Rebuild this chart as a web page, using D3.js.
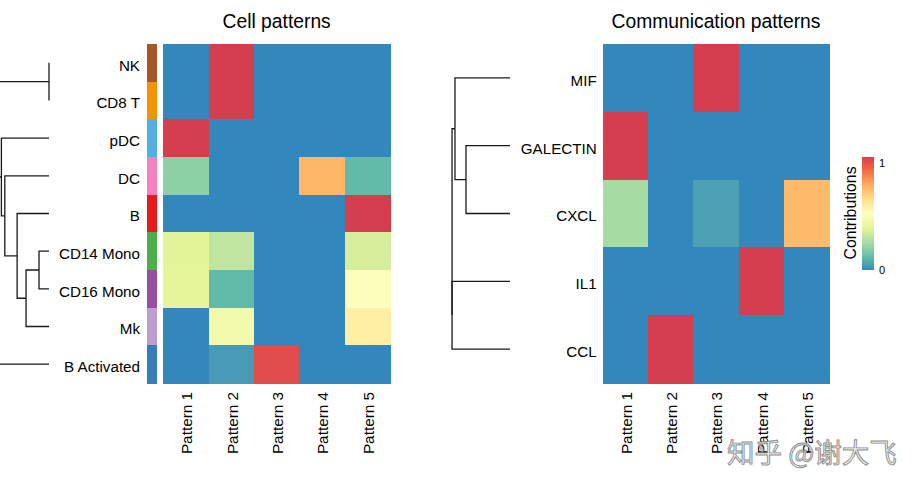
<!DOCTYPE html>
<html><head><meta charset="utf-8">
<script src="https://cdn.jsdelivr.net/npm/d3@7"></script>
<style>body{margin:0;background:#fff} svg{display:block;font-family:"Liberation Sans",Arial,sans-serif}</style>
</head><body><svg id="c" width="921" height="488"></svg>
<script>
// ---------------- data ----------------
const cellGroups = ["NK","CD8 T","pDC","DC","B","CD14 Mono","CD16 Mono","Mk","B Activated"];
const patterns = ["Pattern 1","Pattern 2","Pattern 3","Pattern 4","Pattern 5"];
const cellValues = [
  [0,1,0,0,0],
  [0,1,0,0,0],
  [1,0,0,0,0],
  [0.19,0,0,0.73,0.11],
  [0,0,0,0,1],
  [0.37,0.29,0,0,0.34],
  [0.38,0.11,0,0,0.49],
  [0,0.44,0,0,0.56],
  [0,0.04,0.96,0,0]
];
const cellGroupColors = ["#A65628","#F29403","#54B0E4","#F781BF","#E41A1C","#4DAF4A","#984EA3","#BC9DCC","#377EB8"];
const signalings = ["MIF","GALECTIN","CXCL","IL1","CCL"];
const commValues = [
  [0,0,1,0,0],
  [1,0,0,0,0],
  [0.24,0,0.05,0,0.72],
  [0,0,0,1,0],
  [0,1,0,0,0]
];
const spectral = ["#3288BD","#66C2A5","#ABDDA4","#E6F598","#FFFFBF","#FEE08B","#FDAE61","#F46D43","#D53E4F"];
const legendTicks = [0,1];
const legendTitle = "Contributions";
const titles = ["Cell patterns","Communication patterns"];
const watermark = "知乎 @谢大飞";
// dendrograms (merge heights)
const cellTree = {h:1.45, children:[
  {h:1.25, children:[
    {h:0, children:[{name:"NK"},{name:"CD8 T"}]},
    {h:1.12, children:[{name:"pDC"},
      {h:1.04, children:[{name:"DC"},
        {h:0.75, children:[{name:"B"},
          {h:0.54, children:[{h:0.235, children:[{name:"CD14 Mono"},{name:"CD16 Mono"}]},{name:"Mk"}]}]}]}]}
  ]},
  {name:"B Activated"}
]};
const commTree = {h:1.38, children:[
  {h:1.31, children:[{name:"MIF"},{h:1.048, children:[{name:"GALECTIN"},{name:"CXCL"}]}]},
  {h:1.38, children:[{name:"IL1"},{name:"CCL"}]}
]};

// ---------------- drawing ----------------
const svg = d3.select("#c");
const color = d3.scaleLinear().domain(d3.range(spectral.length).map(i=>i/(spectral.length-1)))
  .range(spectral).interpolate(d3.interpolateLab).clamp(true);

const hmTop = 44, hmBottom = 383;
const FONT = "Liberation Sans, Arial, sans-serif";

function heatmap(rows, values, x0, x1) {
  const x = d3.scaleBand().domain(patterns).range([x0, x1]);
  const y = d3.scaleBand().domain(rows).range([hmTop, hmBottom]);
  const g = svg.append("g");
  const cells = [];
  rows.forEach((r,i)=>patterns.forEach((p,j)=>cells.push({r,p,v:values[i][j]})));
  g.selectAll("rect").data(cells).join("rect")
    .attr("x", d=>x(d.p)).attr("y", d=>y(d.r))
    .attr("width", x.bandwidth()+0.5).attr("height", y.bandwidth()+0.5)
    .attr("fill", d=>color(d.v)).attr("shape-rendering","crispEdges");
  const ax = svg.append("g").attr("transform",`translate(0,${hmBottom})`)
    .call(d3.axisBottom(x).tickSize(0));
  ax.select(".domain").remove();
  ax.selectAll("text").attr("y",1).attr("x",-9).attr("dy","0.35em")
    .attr("transform","rotate(-90)").style("text-anchor","end")
    .attr("font-size",15.3).attr("font-family",FONT).attr("fill","#000");
  return {x,y};
}

function rowLabels(y, xAxis, pad) {
  const ay = svg.append("g").attr("transform",`translate(${xAxis},0)`)
    .call(d3.axisLeft(y).tickSize(0).tickPadding(pad));
  ay.select(".domain").remove();
  ay.selectAll("text").attr("dy","0.52em").attr("font-size",15.2).attr("font-family",FONT).attr("fill","#000");
}

function dendro(tree, y, xs) {
  const root = d3.hierarchy(tree);
  root.eachAfter(n=>{
    if (!n.children) { n.ph = 0; n.py = y(n.data.name)+y.bandwidth()/2; }
    else { n.ph = n.data.h; n.py = (n.children[0].py + n.children[n.children.length-1].py)/2; }
  });
  svg.append("g").selectAll("path").data(root.links()).join("path")
    .attr("d", l=>`M${xs(l.source.ph)},${l.source.py}V${l.target.py}H${xs(l.target.ph)}`)
    .attr("fill","none").attr("stroke","#1a1a1a").attr("stroke-width",1.3);
}

// left panel
const L = heatmap(cellGroups, cellValues, 163.3, 390);
svg.append("g").selectAll("rect").data(cellGroups).join("rect")
  .attr("x",146.7).attr("y",d=>L.y(d)).attr("width",10.6).attr("height",L.y.bandwidth()+0.5)
  .attr("fill",(d,i)=>cellGroupColors[i]).attr("shape-rendering","crispEdges");
rowLabels(L.y, 146.7, 6.7);
dendro(cellTree, L.y, d3.scaleLinear().domain([0,1]).range([49,6.5]));

// right panel
const R = heatmap(signalings, commValues, 602.7, 829.3);
rowLabels(R.y, 602.7, 6);
dendro(commTree, R.y, d3.scaleLinear().domain([0,1]).range([510,468]));

// titles
svg.selectAll("text.title").data(titles).join("text").attr("class","title")
  .attr("x",(d,i)=> i===0 ? (163.3+390)/2 : (602.7+829.3)/2).attr("y",28)
  .attr("text-anchor","middle").attr("font-size",19.3).text(d=>d);

// legend
const defs = svg.append("defs");
const grad = defs.append("linearGradient").attr("id","lg").attr("x1",0).attr("x2",0).attr("y1",1).attr("y2",0);
d3.range(0,1.0001,0.05).forEach(t=>grad.append("stop").attr("offset",t).attr("stop-color",color(t)));
const ly = d3.scaleLinear().domain([0,1]).range([270,157]);
svg.append("rect").attr("x",862).attr("y",ly(1)).attr("width",12).attr("height",ly(0)-ly(1)).attr("fill","url(#lg)");
svg.selectAll("text.lt").data(legendTicks).join("text").attr("class","lt")
  .attr("x",879).attr("y",d=>ly(d)+ (d===0? 0 : 6)).attr("dy","0.35em").attr("font-size",11).text(d=>d);
svg.append("text").attr("transform","translate(850,213) rotate(-90)").attr("text-anchor","middle")
  .attr("dy","0.35em").attr("font-size",15.8).text(legendTitle);

// watermark
svg.append("text").attr("x",727).attr("y",463).attr("font-family","Noto Sans CJK SC")
  .attr("font-size",27.5).attr("fill","#eeeeee").attr("fill-opacity",0.85)
  .attr("stroke","#8c8c8c").attr("stroke-width",0.9).text(watermark);
</script></body></html>
